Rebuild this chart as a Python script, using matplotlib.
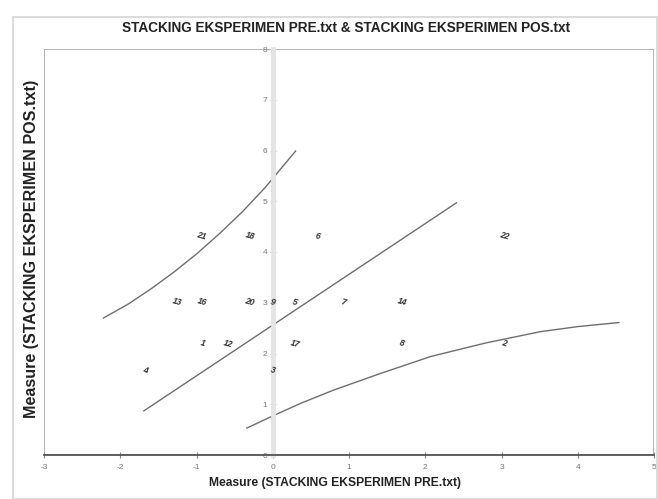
import matplotlib
matplotlib.use("Agg")
import matplotlib.pyplot as plt
from matplotlib.patches import Rectangle

plt.rcParams['font.family'] = ['Liberation Sans', 'DejaVu Sans']
plt.rcParams['axes.unicode_minus'] = False

# --------------------- DATA ---------------------

title = "STACKING EKSPERIMEN PRE.txt & STACKING EKSPERIMEN POS.txt"
xlabel = "Measure (STACKING EKSPERIMEN PRE.txt)"
ylabel = "Measure (STACKING EKSPERIMEN POS.txt)"

# item measures (pre, pos) and their labels
item_labels = ["21", "18", "6", "22",
               "13", "16", "20", "9", "5", "7", "14",
               "1", "12", "17", "8", "2",
               "4", "3"]
pre = [-0.93, -0.30, 0.59, 3.04,
       -1.26, -0.93, -0.31, 0.00, 0.29, 0.92, 1.69,
       -0.92, -0.59, 0.29, 1.69, 3.04,
       -1.67, 0.00]
pos = [4.31, 4.31, 4.31, 4.31,
       3.01, 3.01, 3.01, 3.01, 3.01, 3.01, 3.01,
       2.20, 2.20, 2.20, 2.20, 2.20,
       1.67, 1.67]

# identity (trend) line
trend_x = [-1.69, 2.41]
trend_y = [0.87, 4.97]

# upper confidence band
upper_x = [-2.22, -1.90, -1.60, -1.30, -1.00, -0.70, -0.40, -0.10, 0.30]
upper_y = [2.70, 2.97, 3.27, 3.60, 3.96, 4.36, 4.79, 5.27, 5.99]

# lower confidence band
lower_x = [-0.34, 0.00, 0.37, 0.80, 1.40, 2.07, 2.80, 3.51, 4.00, 4.54]
lower_y = [0.53, 0.77, 1.02, 1.28, 1.60, 1.94, 2.21, 2.43, 2.53, 2.61]

xticks = [-3, -2, -1, 0, 1, 2, 3, 4, 5]
yticks = [0, 1, 2, 3, 4, 5, 6, 7, 8]

# --------------------- PLOT ---------------------

W, H = 658, 499
fig = plt.figure(figsize=(W / 100, H / 100), dpi=100)

# outer light frame
fig.patches.append(Rectangle((13 / W, 0), (657 - 13) / W, 1 - 17 / H,
                             transform=fig.transFigure, fill=False,
                             edgecolor="#d4d4d4", linewidth=1.2))

ax = fig.add_axes([44 / W, 1 - 455 / H, (654 - 44) / W, (455 - 49) / H])
ax.set_xlim(-3, 5)
ax.set_ylim(0, 8)

# frame around plot area
ax.add_patch(Rectangle((0, 0), 1, 1, transform=ax.transAxes, fill=False,
                       edgecolor="#a8a8a8", linewidth=1.2, zorder=1))

# y axis sits on x = 0
for s in ["top", "right"]:
    ax.spines[s].set_visible(False)
ax.spines["left"].set_position(("data", 0))
ax.spines["left"].set_color("#e4e4e4")
ax.spines["left"].set_linewidth(3.5)
ax.spines["bottom"].set_color("#555555")
ax.spines["bottom"].set_linewidth(1.3)

ax.set_xticks(xticks)
ax.set_yticks(yticks)
ax.tick_params(axis="x", direction="inout", length=5, width=0.8,
               color="#888888", labelsize=6, labelcolor="#777777", pad=4)
ax.tick_params(axis="y", direction="inout", length=4, width=0.8,
               color="#bbbbbb", labelsize=6, labelcolor="#777777", pad=2)

line_kw = dict(color="#6e6e6e", linewidth=1.0)
ax.plot(trend_x, trend_y, **line_kw)
ax.plot(upper_x, upper_y, **line_kw)
ax.plot(lower_x, lower_y, **line_kw)

for lab, x, y in zip(item_labels, pre, pos):
    ax.text(x, y, lab, fontsize=6.2, fontweight="bold", fontstyle="italic",
            color="#333333", ha="center", va="center", rotation=-15)

fig.text(346 / W, 1 - 28 / H, title, ha="center", va="center",
         fontsize=9.8, fontweight="bold", color="#222222")
fig.text(335 / W, 1 - 483 / H, xlabel, ha="center", va="center",
         fontsize=8.7, fontweight="bold", color="#222222")
fig.text(32 / W, 1 - 249 / H, ylabel, ha="center", va="center",
         rotation=90, fontsize=11.6, fontweight="bold", color="#222222")

fig.savefig("out.png", dpi=100)
